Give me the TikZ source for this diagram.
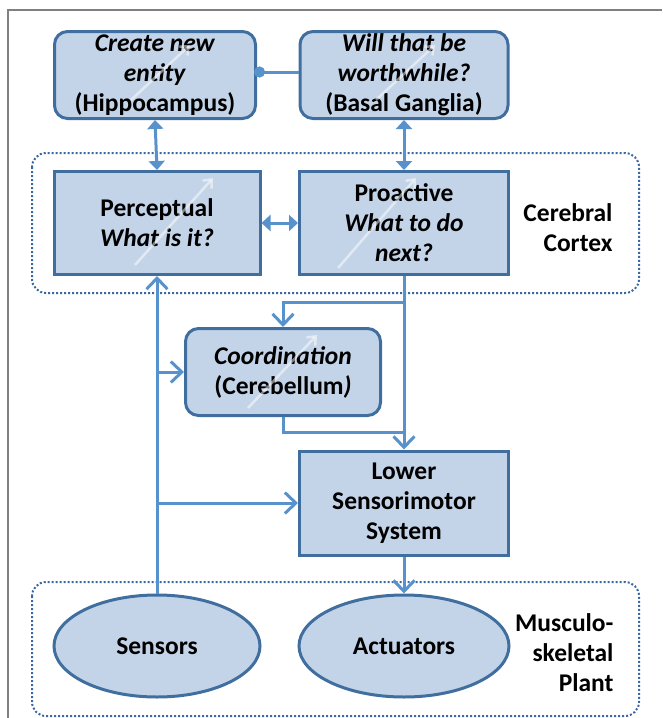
\documentclass[tikz,border=0pt]{standalone}
\usepackage{fontspec}
\setmainfont{Carlito}
\usepackage{xcolor}
\usetikzlibrary{arrows.meta,calc,positioning,shapes.geometric}
\definecolor{boxfill}{RGB}{196,212,232}
\definecolor{boxline}{RGB}{64,110,158}
\definecolor{linkblue}{RGB}{88,146,205}
\definecolor{regionblue}{RGB}{60,104,160}
\definecolor{framegray}{RGB}{128,128,128}

\begin{document}
\begin{tikzpicture}[x=1pt,y=-1pt,
                    font=\fontsize{25.5}{30}\selectfont\bfseries,
                    box node/.style={rectangle,draw=boxline,fill=boxfill,line width=3pt,inner sep=0pt,align=center},
                    round node/.style={box node,rounded corners=13pt},
                    oval node/.style={ellipse,draw=boxline,fill=boxfill,line width=3pt,inner sep=0pt},
                    region/.style={draw=regionblue,line width=2pt,dotted,rounded corners=14pt},
                    link/.style={draw=linkblue,line width=3pt},
                    onearrow/.style={link,-{Straight Barb[length=11pt,width=21pt,line width=3pt]}},
                    twoarrow/.style={link,{Triangle[length=9pt,width=16pt]}-{Triangle[length=9pt,width=16pt]}},
                    glint/.style={draw=white,opacity=0.5,line width=2.5pt,-{Straight Barb[length=7pt,width=12pt]}}]
\useasboundingbox (0,0) rectangle (662,718);
\draw[framegray,line width=1.5pt] (8,718) -- (8,10) -- (662,10);

\draw[region] (32,153) rectangle (639,293);
\draw[region] (32,582) rectangle (639,716);

\node[round node,minimum width=201pt,minimum height=87pt] (Hippo) at (155,75)
  {\textit{Create new}\\\textit{entity}\\(Hippocampus)};
\node[round node,minimum width=208pt,minimum height=87pt] (Basal) at (404,75)
  {\textit{Will that be}\\\textit{worthwhile?}\\(Basal Ganglia)};
\node[box node,minimum width=206pt,minimum height=103pt] (Perceptual) at (157,223)
  {Perceptual\\\textit{What is it?}};
\node[box node,minimum width=209pt,minimum height=103pt] (Proactive) at (404,223)
  {Proactive\\\textit{What to do}\\\textit{next?}};
\node[round node,minimum width=195pt,minimum height=87pt] (Coord) at (283,372)
  {\textit{Coordination}\\(Cerebellum\textit{)}};
\node[box node,minimum width=209pt,minimum height=104pt] (Lower) at (404,503)
  {Lower\\Sensorimotor\\System};
\node[oval node,minimum width=206pt,minimum height=102pt] (Sensors) at (157,646) {Sensors};
\node[oval node,minimum width=210pt,minimum height=102pt] (Actuators) at (404,646) {Actuators};

\node[align=right,anchor=east] (CortexLabel) at (616,228) {Cerebral\\Cortex};
\node[align=right,anchor=east] (PlantLabel) at (617,653) {Musculo-\\skeletal\\Plant};

\foreach \a/\b in {{(131,100)}/{(190,45)},{(376,100)}/{(435,45)},{(135,265)}/{(213,178)},
                   {(338,268)}/{(416,178)},{(248,408)}/{(317,335)}}
  \draw[glint] \a -- \b;

\draw[link,{Circle[length=11pt]}-,shorten <=-3pt] (Hippo.east |- 0,72) -- (Basal.west |- 0,72);
\draw[twoarrow] (Hippo.south) -- (Perceptual.north);
\draw[twoarrow] (Basal.south) -- (Proactive.north);
\draw[twoarrow] (Perceptual.east) -- (Proactive.west);

\coordinate (Split) at ($(Proactive.south)+(0,26)$);
\coordinate (Join) at ($(Coord.south)+(0,15)$);
\draw[onearrow] (Proactive.south) -- (Lower.north);
\draw[onearrow] (Split) -| (Coord.north);
\draw[link] (Coord.south) |- (Join -| Lower.north);

\draw[onearrow] (Sensors.north) -- (Perceptual.south);
\draw[onearrow] (Sensors.north |- Coord.west) -- (Coord.west);
\draw[onearrow] (Sensors.north |- Lower.west) -- (Lower.west);
\draw[onearrow] (Lower.south) -- (Actuators.north);
\end{tikzpicture}
\end{document}
